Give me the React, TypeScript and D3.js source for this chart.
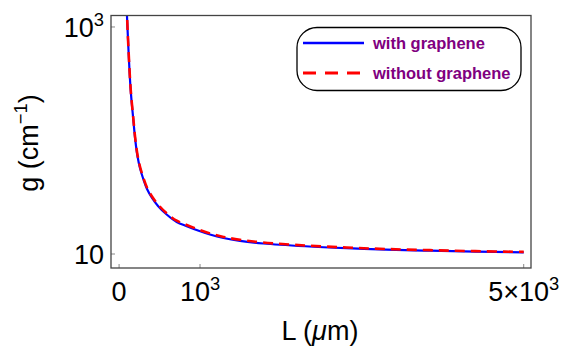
import React, { useEffect, useRef } from "react";
import * as d3 from "d3";

// cavity length L (µm) and threshold gain g (cm^-1)
const lengths = [92, 116, 143, 176, 200, 227, 258, 299, 345, 407, 481, 588, 712, 836, 975, 1123, 1290, 1494, 1781, 2300, 2811, 3300, 3840, 4400, 5000];
const gainWith = [1560, 627, 279, 151.6, 101, 73.0, 57.3, 45.8, 37.4, 31.2, 26.5, 22.3, 19.15, 17.58, 16.11, 14.86, 13.84, 13.05, 12.38, 11.7, 11.25, 10.94, 10.7, 10.5, 10.35];
const gainWithout = [1590, 640, 285, 155.5, 103.8, 75.1, 59.0, 47.2, 38.5, 32.1, 27.3, 22.85, 19.65, 18.02, 16.5, 15.2, 14.15, 13.35, 12.62, 11.9, 11.4, 11.07, 10.81, 10.6, 10.44];

const seriesNames = ["with graphene", "without graphene"];
const xTicks = [0, 1000, 5000];
const yTicks = [10, 1000];

const FONT = "'Liberation Sans', Arial, sans-serif";

export default function App() {
  const ref = useRef<SVGSVGElement>(null);

  useEffect(() => {
    const width = 566, height = 352;
    const left = 111, right = 531, top = 15.5, bottom = 268;

    const svg = d3.select(ref.current);
    svg.selectAll("*").remove();

    const x = d3.scaleLinear().domain([-100, 5090]).range([left, right]);
    const y = d3.scaleLog().domain([7.53, 1262]).range([bottom, top]);

    svg.append("defs").append("clipPath").attr("id", "plot")
      .append("rect").attr("x", left).attr("y", top)
      .attr("width", right - left).attr("height", bottom - top);

    // ticks inside the frame
    svg.append("g").selectAll("line").data(xTicks).join("line")
      .attr("x1", d => x(d)).attr("x2", d => x(d))
      .attr("y1", bottom).attr("y2", bottom - 4)
      .attr("stroke", "#888").attr("stroke-width", 1);
    svg.append("g").selectAll("line").data(yTicks).join("line")
      .attr("x1", left).attr("x2", left + 4)
      .attr("y1", d => y(d)).attr("y2", d => y(d))
      .attr("stroke", "#888").attr("stroke-width", 1);

    const line = (vals: number[]) => d3.line<number>()
      .x((d, i) => x(lengths[i]))
      .y(d => y(d))
      .curve(d3.curveCatmullRom.alpha(0.5))(vals);

    const plot = svg.append("g").attr("clip-path", "url(#plot)");
    plot.append("path").attr("d", line(gainWith))
      .attr("fill", "none").attr("stroke", "#0000ff").attr("stroke-width", 2.2);
    plot.append("path").attr("d", line(gainWithout))
      .attr("fill", "none").attr("stroke", "#ff0000").attr("stroke-width", 2.6)
      .attr("stroke-dasharray", "10,6");

    // frame
    svg.append("rect").attr("x", left).attr("y", top)
      .attr("width", right - left).attr("height", bottom - top)
      .attr("fill", "none").attr("stroke", "#444").attr("stroke-width", 1.3);

    const sup = (g: any, base: string, exp: string) => {
      g.append("tspan").text(base);
      g.append("tspan").attr("font-size", "0.68em").attr("dy", "-0.62em").text(exp);
    };

    // x tick labels
    const xl = svg.append("g").attr("font-family", FONT).attr("font-size", 27).attr("fill", "#000");
    xTicks.forEach(t => {
      const txt = xl.append("text").attr("x", x(t)).attr("y", 301).attr("text-anchor", "middle");
      if (t === 0) txt.text("0");
      else if (t === 1000) sup(txt, "10", "3");
      else sup(txt, "5\u00d710", "3");
    });

    // y tick labels
    yTicks.forEach(t => {
      const txt = xl.append("text").attr("x", 104).attr("y", y(t) + 10).attr("text-anchor", "end");
      if (t === 10) txt.text("10");
      else sup(txt, "10", "3");
    });

    // axis titles
    const xt = xl.append("text").attr("x", 320).attr("y", 340).attr("text-anchor", "middle");
    xt.append("tspan").text("L (");
    xt.append("tspan").attr("font-style", "italic").text("\u03bc");
    xt.append("tspan").text("m)");

    const yt = xl.append("text").attr("transform", "translate(38,143) rotate(-90)").attr("text-anchor", "middle");
    yt.append("tspan").text("g (cm");
    yt.append("tspan").attr("font-size", "0.68em").attr("dy", "-0.62em").text("\u22121");
    yt.append("tspan").attr("dy", "0.42em").text(")");

    // legend
    const lg = svg.append("g");
    lg.append("rect").attr("x", 297).attr("y", 27.5).attr("width", 224).attr("height", 63)
      .attr("rx", 20).attr("fill", "#fff").attr("stroke", "#000").attr("stroke-width", 1.3);
    const colors = ["#0000ff", "#ff0000"];
    seriesNames.forEach((name, i) => {
      const ly = 43 + i * 30;
      lg.append("line").attr("x1", 303).attr("x2", 364).attr("y1", ly).attr("y2", ly)
        .attr("stroke", colors[i]).attr("stroke-width", i === 0 ? 2.4 : 2.8)
        .attr("stroke-dasharray", i === 0 ? null : "13,9");
      lg.append("text").attr("x", 373).attr("y", ly + 6)
        .attr("font-family", FONT).attr("font-weight", "bold").attr("font-size", 16.5)
        .attr("fill", "#800080").text(name);
    });

    svg.attr("width", width).attr("height", height);
  }, []);

  return (
    <svg ref={ref} style={{ position: "absolute", left: 0, top: 0 }}></svg>
  );
}
